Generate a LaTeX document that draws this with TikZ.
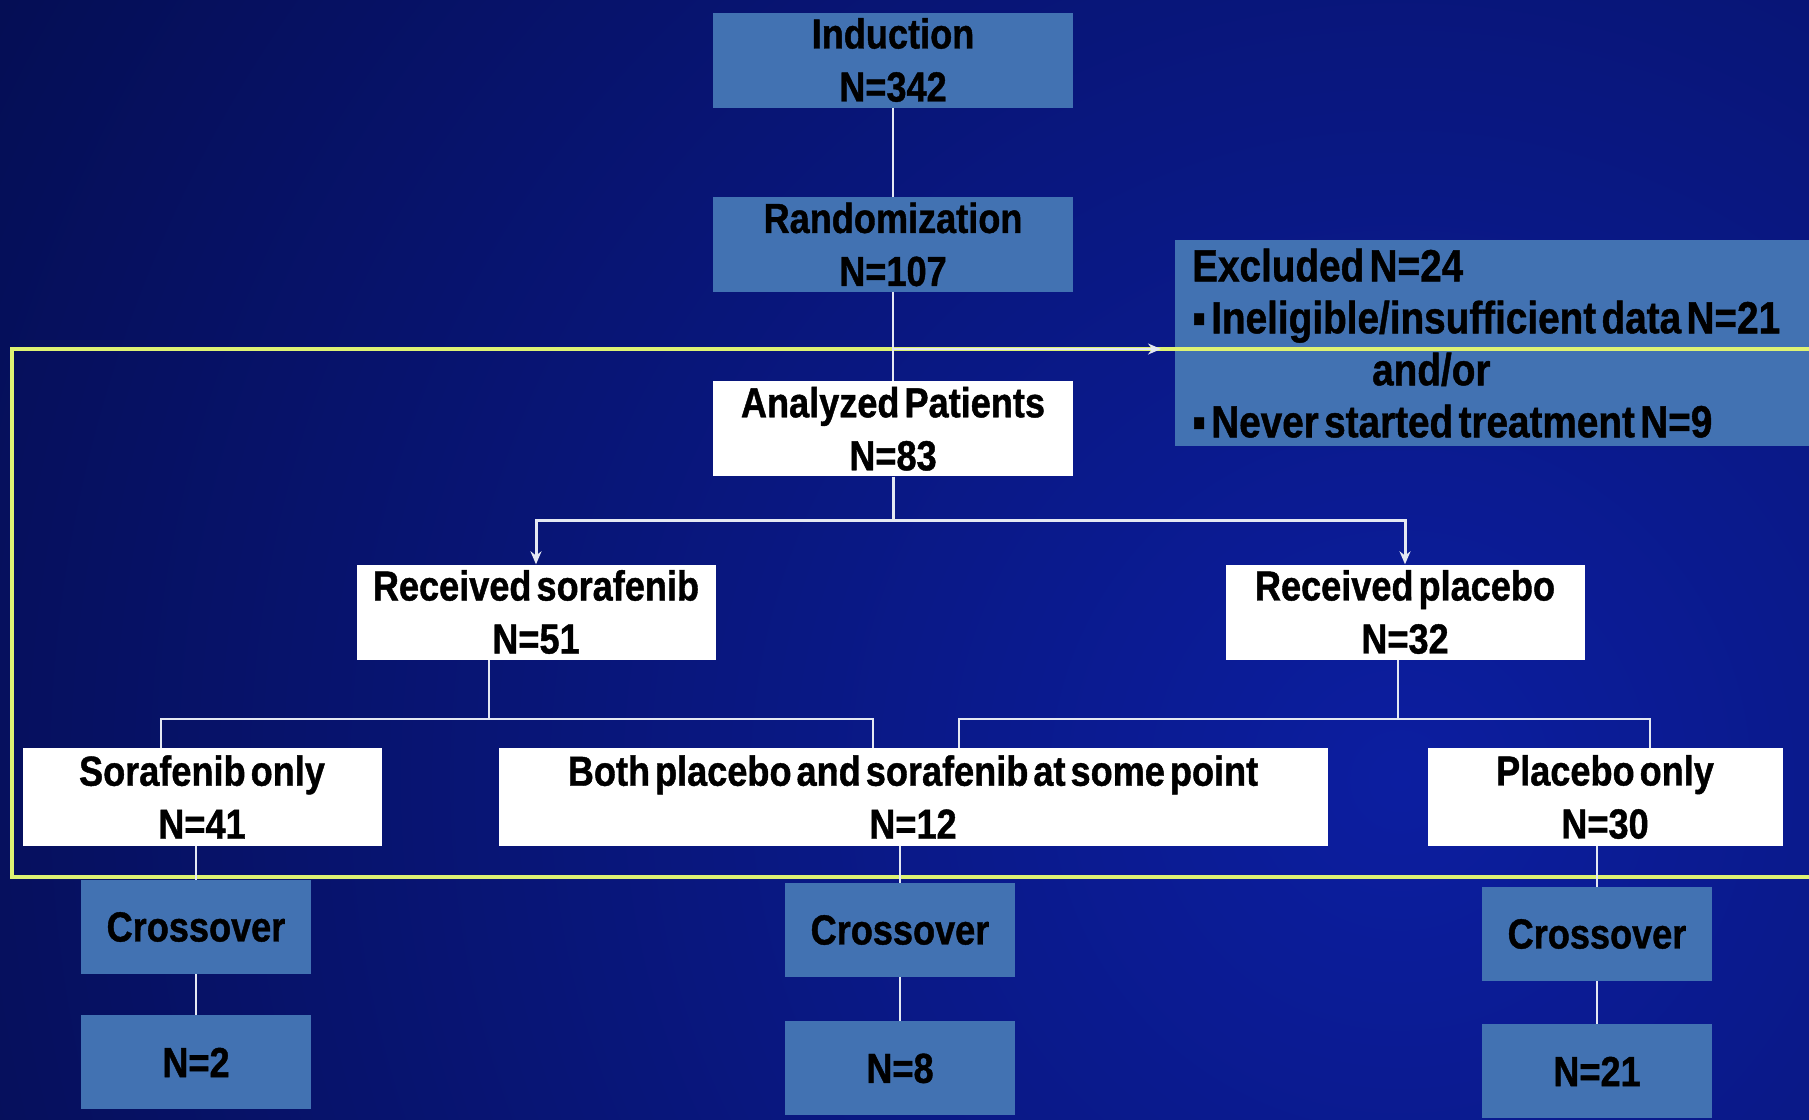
\documentclass[tikz,border=0pt]{standalone}
\usepackage{fontspec}
\newfontfamily\flowfont{Liberation Sans}[FakeStretch=0.86,WordSpace=0.5,FakeBold=1]
\usetikzlibrary{positioning, arrows.meta}
\definecolor{navydark}{RGB}{3,10,66}
\definecolor{navylight}{RGB}{12,30,160}
\definecolor{steelbox}{RGB}{66,114,178}
\definecolor{framelime}{RGB}{222,242,115}
\definecolor{wire}{RGB}{228,232,242}
\tikzset{
	x=1pt, y=-1pt, % one unit is one pixel of the slide
	>={Stealth[length=13pt,width=11pt]}, % small white heads
	every node/.style={inner sep=0pt, align=center, text=black,
		font=\flowfont\bfseries\fontsize{42pt}{53pt}\selectfont},
	bluebox/.style={fill=steelbox, minimum width=230pt, minimum height=94pt},
	widebluebox/.style={bluebox, minimum width=360pt, minimum height=95pt},
	whitebox/.style={fill=white, minimum width=359pt, minimum height=95pt},
	link/.style={draw=wire, line width=2.2pt},
}

\begin{document}
\begin{tikzpicture}
	% slide background
	\useasboundingbox (0,0) rectangle (1809,1119);
	\fill[navydark] (0,0) rectangle (1809,1119);
	\begin{scope}
		\clip (0,0) rectangle (1809,1119);
		\shade[inner color=navylight, outer color=navydark] (1400,780) circle (2000);
	\end{scope}

	% screening part
	\node[widebluebox] (ind) at (893,60) {Induction\\N=342};
	\node[widebluebox, below=89pt of ind] (rand) {Randomization\\N=107};
	\node[whitebox, minimum width=360pt, below=89pt of rand] (anal) {Analyzed Patients\\N=83};
	\node[fill=steelbox, anchor=north west, minimum height=206pt, text width=624pt,
		inner xsep=17pt, align=flush left,
		font=\flowfont\bfseries\fontsize{45pt}{52pt}\selectfont] (excl) at (1175,240)
		{Excluded N=24\\▪ Ineligible/insufficient data N=21\\\hspace*{180pt}and/or\\▪ Never started treatment N=9};

	% treatment arms
	\node[whitebox] (recS) at (536,612) {Received sorafenib\\N=51};
	\node[whitebox] (recP) at (1405,612) {Received placebo\\N=32};
	\node[whitebox, minimum height=98pt] (sorOnly) at (202,797) {Sorafenib only\\N=41};
	\node[whitebox, minimum height=98pt, minimum width=829pt] (both) at (913,797) {Both placebo and sorafenib at some point\\N=12};
	\node[whitebox, minimum height=98pt, minimum width=355pt] (pOnly) at (1605,797) {Placebo only\\N=30};

	% crossover
	\node[bluebox] (crossS) at (196,927) {Crossover};
	\node[bluebox] (crossB) at (900,930) {Crossover};
	\node[bluebox] (crossP) at (1597,934) {Crossover};
	\node[bluebox, below=41pt of crossS] (endS) {N=2};
	\node[bluebox, below=44pt of crossB] (endB) {N=8};
	\node[bluebox, below=43pt of crossP] (endP) {N=21};

	% analyzed population frame
	\draw[framelime, line width=3.5pt] (12,349) rectangle (1830,877);

	% connectors
	\coordinate (toExcl) at (893,349);
	\coordinate (hub) at (893,520);
	\coordinate (hubS) at (489,719);
	\coordinate (hubP) at (1398,719);
	\coordinate (dropA) at (161,719);
	\coordinate (dropB) at (873,719);
	\coordinate (dropC) at (959,719);
	\coordinate (dropD) at (1650,719);

	\draw[link] (ind) -- (rand);
	\draw[link] (rand) -- (anal);
	\draw[link, ->, shorten >=14pt] (toExcl) -- (toExcl -| excl.west);
	\draw[link, line width=3pt] (anal) -- (hub);
	\draw[link, line width=3pt, ->] (hub) -| (recS);
	\draw[link, line width=3pt, ->] (hub) -| (recP);

	\draw[link] (hubS |- recS.south) -- (hubS);
	\draw[link] (dropA |- sorOnly.north) -- (dropA) -- (dropB) -- (dropB |- both.north);
	\draw[link] (hubP |- recP.south) -- (hubP);
	\draw[link] (dropC |- both.north) -- (dropC) -- (dropD) -- (dropD |- pOnly.north);

	\draw[link, line width=1.5pt] (crossS |- sorOnly.south) -- (crossS);
	\draw[link, line width=1.5pt] (crossS) -- (endS);
	\draw[link, line width=1.5pt] (crossB |- both.south) -- (crossB);
	\draw[link, line width=1.5pt] (crossB) -- (endB);
	\draw[link, line width=1.5pt] (crossP |- pOnly.south) -- (crossP);
	\draw[link, line width=1.5pt] (crossP) -- (endP);
\end{tikzpicture}
\end{document}
